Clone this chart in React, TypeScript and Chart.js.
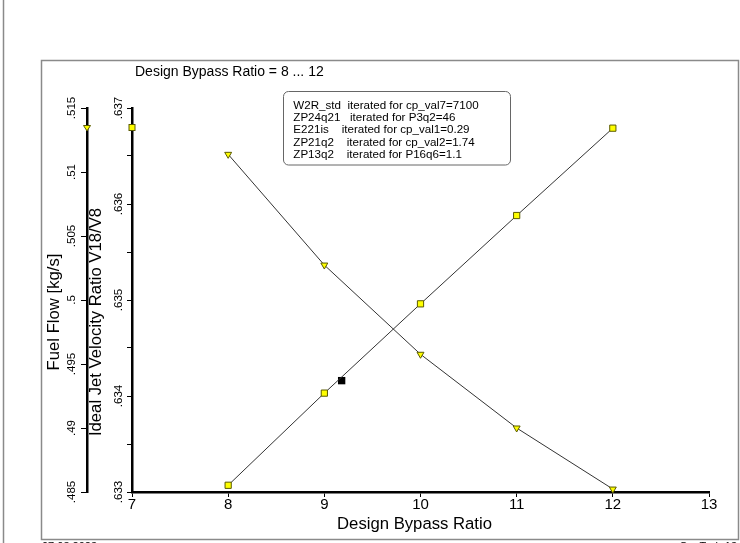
import React, { useEffect, useRef } from "react";
import { Chart, registerables } from "chart.js";

Chart.register(...registerables);

// ---- data ----
const bypassRatio = [8, 9, 10, 11, 12];
const jetVelocityRatio = [0.63307, 0.63403, 0.63496, 0.63588, 0.63679];
const fuelFlow = [0.51138, 0.50273, 0.49576, 0.49, 0.48523];
const designBypass = [9.18];
const designJetRatio = [0.63416];

const xMin = 7;
const xMax = 13;
const xStep = 1;
const jetMin = 0.633;
const jetMax = 0.637;
const jetStep = 0.0005;
const fuelMin = 0.485;
const fuelMax = 0.515;
const fuelStep = 0.005;

const chartTitle = "Design Bypass Ratio = 8 ... 12";
const xTitle = "Design Bypass Ratio";
const fuelTitle = "Fuel Flow [kg/s]";
const jetTitle = "Ideal Jet Velocity Ratio V18/V8";
const legendLines = [
  "W2R_std  iterated for cp_val7=7100",
  "ZP24q21   iterated for P3q2=46",
  "E221is    iterated for cp_val1=0.29",
  "ZP21q2    iterated for cp_val2=1.74",
  "ZP13q2    iterated for P16q6=1.1",
];
const footerLeft = "07.03.2023";
const footerRight = "GasTurb 13";

const FONT = "'Liberation Sans', Arial, sans-serif";

function fmt(v: number): string {
  const s = String(parseFloat(v.toFixed(4)));
  return s.replace(/^0\./, ".");
}

function isMajorJet(v: number): boolean {
  return Math.abs(v * 1000 - Math.round(v * 1000)) < 1e-6;
}

const decorPlugin = {
  id: "decor",
  afterDraw(chart: any) {
    const ctx = chart.ctx as CanvasRenderingContext2D;
    const area = chart.chartArea;
    const sx = chart.scales.x;
    const sj = chart.scales.yJet;
    const sf = chart.scales.yFuel;
    ctx.save();

    // page frame lines
    ctx.strokeStyle = "#8a8a8a";
    ctx.lineWidth = 1.5;
    ctx.beginPath();
    ctx.moveTo(3.5, 0);
    ctx.lineTo(3.5, 543);
    ctx.stroke();
    ctx.strokeRect(41.5, 60.5, 697, 479);

    // footer (cut off)
    ctx.fillStyle = "#000";
    ctx.font = `11px ${FONT}`;
    ctx.textBaseline = "top";
    ctx.textAlign = "left";
    ctx.fillText(footerLeft, 42, 541);
    ctx.textAlign = "right";
    ctx.fillText(footerRight, 737, 541);

    // title
    ctx.font = `14px ${FONT}`;
    ctx.textAlign = "left";
    ctx.textBaseline = "middle";
    ctx.fillText(chartTitle, 135, 72);

    // x tick labels
    ctx.font = `15px ${FONT}`;
    ctx.textAlign = "center";
    ctx.textBaseline = "alphabetic";
    sx.ticks.forEach((t: any) => {
      const px = sx.getPixelForValue(t.value);
      ctx.fillText(fmt(t.value), px, 509);
    });

    // x title
    ctx.font = `16.7px ${FONT}`;
    ctx.fillText(xTitle, 414.5, 529);

    // rotated y tick labels
    ctx.font = `11.5px ${FONT}`;
    const drawRot = (text: string, x: number, y: number) => {
      ctx.save();
      ctx.translate(x, y);
      ctx.rotate(-Math.PI / 2);
      ctx.fillText(text, 0, 0);
      ctx.restore();
    };
    ctx.textAlign = "center";
    ctx.textBaseline = "alphabetic";
    sf.ticks.forEach((t: any) => {
      const py = sf.getPixelForValue(t.value);
      drawRot(fmt(t.value), sf.right - 12.5, py);
    });
    sj.ticks.forEach((t: any) => {
      if (!isMajorJet(t.value)) return;
      const py = sj.getPixelForValue(t.value);
      drawRot(fmt(t.value), sj.right - 10, py);
    });

    // axis titles
    ctx.font = `16.7px ${FONT}`;
    drawRot(fuelTitle, 59, 312);
    drawRot(jetTitle, 100.5, 322);

    // axis identification markers
    const my = area.top + 19.5;
    ctx.fillStyle = "#ffff00";
    ctx.strokeStyle = "#5a5a00";
    ctx.lineWidth = 1;
    const tx = sf.right;
    ctx.beginPath();
    ctx.moveTo(tx - 3.5, my - 2);
    ctx.lineTo(tx + 3.5, my - 2);
    ctx.lineTo(tx, my + 3.5);
    ctx.closePath();
    ctx.fill();
    ctx.stroke();
    const qx = sj.right;
    ctx.fillRect(qx - 3, my - 3, 6, 6);
    ctx.strokeRect(qx - 3, my - 3, 6, 6);

    // legend box
    ctx.strokeStyle = "#666";
    ctx.lineWidth = 1;
    ctx.fillStyle = "#fff";
    ctx.beginPath();
    const bx = 283.5, by = 91.5, bw = 227, bh = 73.5;
    if ((ctx as any).roundRect) {
      (ctx as any).roundRect(bx, by, bw, bh, 5);
    } else {
      ctx.rect(bx, by, bw, bh);
    }
    ctx.fill();
    ctx.stroke();
    ctx.fillStyle = "#000";
    ctx.font = `11.6px ${FONT}`;
    ctx.textAlign = "left";
    ctx.textBaseline = "middle";
    legendLines.forEach((line, i) => {
      ctx.fillText(line, 293.3, 106 + i * 12.1);
    });

    ctx.restore();
  },
};

export default function App() {
  const ref = useRef<HTMLCanvasElement | null>(null);

  useEffect(() => {
    if (!ref.current) return;
    const gridOpts = (len: number) => ({
      display: true,
      drawOnChartArea: false,
      drawTicks: true,
      tickLength: len,
      tickColor: "#000",
      tickWidth: 1,
    });
    const chart = new Chart(ref.current, {
      type: "scatter",
      data: {
        datasets: [
          {
            label: jetTitle,
            data: bypassRatio.map((x, i) => ({ x, y: jetVelocityRatio[i] })),
            yAxisID: "yJet",
            showLine: true,
            borderColor: "#333",
            borderWidth: 1,
            tension: 0,
            pointStyle: "rect",
            pointRadius: 4.4,
            pointBackgroundColor: "#ffff00",
            pointBorderColor: "#5a5a00",
            pointBorderWidth: 1,
            clip: false,
          },
          {
            label: fuelTitle,
            data: bypassRatio.map((x, i) => ({ x, y: fuelFlow[i] })),
            yAxisID: "yFuel",
            showLine: true,
            borderColor: "#333",
            borderWidth: 1,
            tension: 0,
            pointStyle: "triangle",
            pointRotation: 180,
            pointRadius: 4,
            pointBackgroundColor: "#ffff00",
            pointBorderColor: "#5a5a00",
            pointBorderWidth: 1,
            clip: false,
          },
          {
            label: "Design point",
            data: designBypass.map((x, i) => ({ x, y: designJetRatio[i] })),
            yAxisID: "yJet",
            showLine: false,
            pointStyle: "rect",
            pointRadius: 5.2,
            pointBackgroundColor: "#000",
            pointBorderColor: "#000",
            pointBorderWidth: 0,
            clip: false,
          },
        ],
      },
      options: {
        animation: false,
        responsive: false,
        maintainAspectRatio: false,
        layout: { padding: { top: 108, right: 31, bottom: 0, left: 0 } },
        plugins: {
          legend: { display: false },
          tooltip: { enabled: false },
          title: { display: false },
        },
        scales: {
          x: {
            type: "linear",
            position: "bottom",
            min: xMin,
            max: xMax,
            ticks: { stepSize: xStep, display: false },
            grid: gridOpts(5),
            border: { display: true, color: "#000", width: 2.5 },
            afterFit: (s: any) => {
              s.height = 51;
            },
          },
          yJet: {
            type: "linear",
            position: "left",
            weight: 0,
            min: jetMin,
            max: jetMax,
            ticks: { stepSize: jetStep, display: false },
            grid: gridOpts(5),
            border: { display: true, color: "#000", width: 2.5 },
            afterFit: (s: any) => {
              s.width = 45;
            },
          },
          yFuel: {
            type: "linear",
            position: "left",
            weight: 1,
            min: fuelMin,
            max: fuelMax,
            ticks: { stepSize: fuelStep, display: false },
            grid: gridOpts(6),
            border: { display: true, color: "#000", width: 2.5 },
            afterFit: (s: any) => {
              s.width = 87;
            },
          },
        },
      } as any,
      plugins: [decorPlugin],
    });
    return () => chart.destroy();
  }, []);

  return (
    <div style={{ position: "absolute", left: 0, top: 0, width: 740, height: 543, background: "#fff" }}>
      <canvas ref={ref} width={740} height={543} style={{ display: "block", width: 740, height: 543 }} />
    </div>
  );
}
